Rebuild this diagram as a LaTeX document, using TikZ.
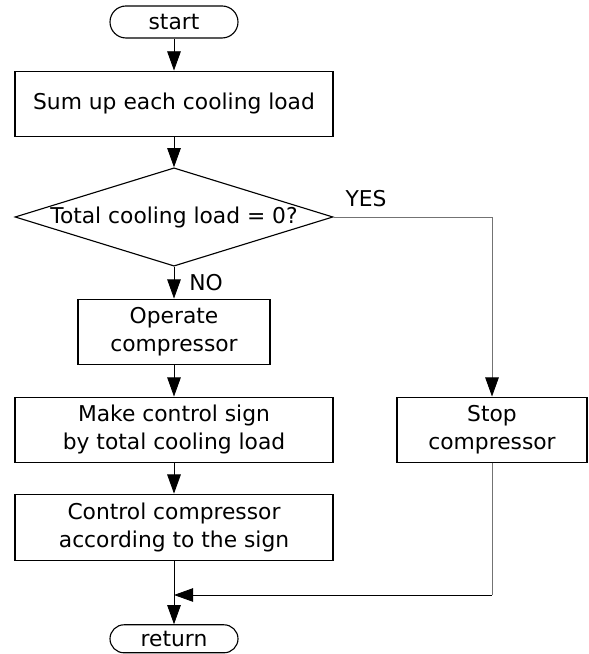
\documentclass[tikz,border=0pt]{standalone}
\usepackage{fontspec}
\setmainfont{DejaVu Sans}
\usetikzlibrary{shapes.geometric,arrows.meta}

\begin{document}
\begin{tikzpicture}[
    font=\fontsize{15.5}{20}\selectfont,
    line width=0.8pt,
    terminal/.style={draw,rectangle,rounded corners=0.4cm,minimum width=3.2cm,minimum height=0.8cm,inner sep=0},
    process/.style={draw,rectangle,align=center,minimum height=1.625cm,inner sep=0},
    decision/.style={draw,diamond,aspect=3.2,minimum width=7.95cm,minimum height=2.45cm,inner sep=0},
    flow/.style={line width=0.6pt,-{Triangle[length=4.8mm,width=3.4mm,color=black]}},
    link/.style={line width=0.6pt}
]
            \useasboundingbox (0,0) rectangle (14.7,16.35);
            \node (start) at (4.35, 15.8)[terminal]{start};
            \node (sum) at (4.35, 13.76)[process,minimum width=7.95cm]{Sum up each cooling load};
            \node (check) at (4.35, 10.925)[decision]{Total cooling load = 0?};
            \node (operate) at (4.35, 8.06)[process,minimum width=4.8cm]{Operate\\compressor};
            \node (sign) at (4.35, 5.61)[process,minimum width=7.95cm]{Make control sign\\by total cooling load};
            \node (stop) at (12.3, 5.61)[process,minimum width=4.75cm]{Stop\\compressor};
            \node (control) at (4.35, 3.17)[process,minimum width=7.95cm,minimum height=1.65cm]{Control compressor\\according to the sign};
            \node (ret) at (4.35, 0.38)[terminal,minimum height=0.7cm,rounded corners=0.35cm]{return};
            \node (yes) at (9.15, 11.375) {YES};
            \node (no) at (5.15, 9.275) {NO};
            \coordinate (join) at (4.35, 1.475);
            \coordinate (turn) at (stop.south |- join);
            % main line
            \draw[flow] (start) -- (sum);
            \draw[flow] (sum) -- (check);
            \draw[flow] (check) -- (operate);
            \draw[flow] (operate) -- (sign);
            \draw[flow] (sign) -- (control);
            \draw[flow] (control) -- (ret);
            % yes branch
            \draw[flow,black!55] (check.east) -| (stop.north);
            \draw[link,black!55] (stop.south) -- (turn);
            \draw[flow] (turn) -- (join);
        \end{tikzpicture}
\end{document}
